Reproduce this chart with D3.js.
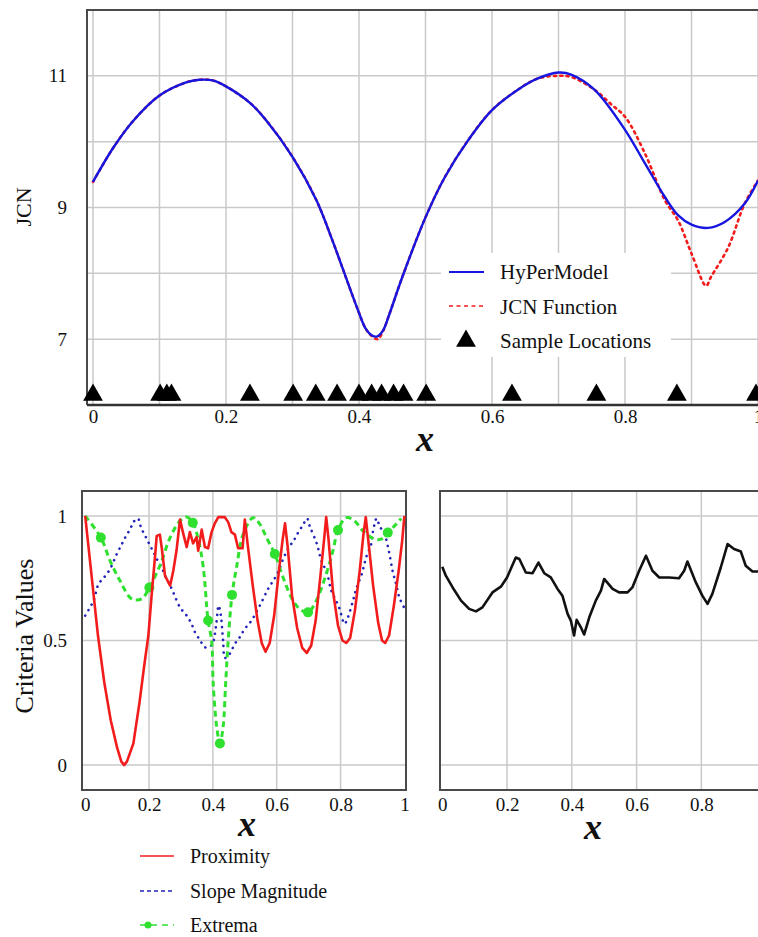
<!DOCTYPE html>
<html>
<head>
<meta charset="utf-8">
<script src="https://cdn.jsdelivr.net/npm/d3@7"></script>
<style>
  html, body { margin: 0; padding: 0; background: #fff; }
  svg { display: block; }
  text { font-family: "Liberation Serif", "Times New Roman", serif; fill: #111; }
</style>
</head>
<body>
<svg id="chart" width="758" height="937"></svg>
<script>
// ---- Top panel: HyPerModel vs. JCN function ----
const hyperX = [0, 0.03, 0.06, 0.1, 0.14, 0.16, 0.18, 0.2, 0.236, 0.26, 0.3, 0.336, 0.36, 0.386, 0.4, 0.41, 0.419, 0.427, 0.436, 0.445, 0.465, 0.5, 0.529, 0.564, 0.6, 0.639, 0.669, 0.7, 0.719, 0.754, 0.8, 0.83, 0.86, 0.88, 0.9, 0.925, 0.95, 0.98, 1.0];
const hyperY = [9.39, 9.90, 10.31, 10.70, 10.90, 10.94, 10.93, 10.84, 10.59, 10.33, 9.77, 9.11, 8.5, 7.78, 7.40, 7.16, 7.06, 7.04, 7.13, 7.36, 7.94, 8.85, 9.46, 10.02, 10.48, 10.79, 10.96, 11.05, 11.02, 10.79, 10.18, 9.67, 9.16, 8.88, 8.74, 8.69, 8.78, 9.06, 9.41];

const jcnX = [0, 0.03, 0.06, 0.1, 0.14, 0.16, 0.18, 0.2, 0.236, 0.26, 0.3, 0.336, 0.36, 0.386, 0.4, 0.41, 0.419, 0.428, 0.436, 0.445, 0.465, 0.5, 0.529, 0.564, 0.6, 0.639, 0.669, 0.7, 0.72, 0.754, 0.78, 0.8, 0.83, 0.86, 0.88, 0.9, 0.922, 0.929, 0.955, 0.98, 1.0];
const jcnY = [9.39, 9.90, 10.31, 10.70, 10.90, 10.94, 10.93, 10.84, 10.59, 10.33, 9.77, 9.11, 8.5, 7.78, 7.40, 7.16, 7.05, 7.0, 7.12, 7.36, 7.94, 8.85, 9.46, 10.02, 10.48, 10.79, 10.96, 11.0, 10.98, 10.79, 10.56, 10.38, 9.82, 9.11, 8.80, 8.30, 7.81, 7.94, 8.39, 9.06, 9.41];

const sampleX = [0, 0.101, 0.111, 0.118, 0.236, 0.301, 0.335, 0.367, 0.400, 0.419, 0.434, 0.452, 0.467, 0.501, 0.630, 0.757, 0.878, 0.997];

const topXTicks = [0, 0.2, 0.4, 0.6, 0.8, 1];
const topXGrid = [0, 0.1, 0.2, 0.3, 0.4, 0.5, 0.6, 0.7, 0.8, 0.9, 1.0];
const topYTicks = [7, 9, 11];
const topYGrid = [7, 8, 9, 10, 11];

// ---- Bottom-left panel: individual criteria ----
const proxX = [0, 0.01, 0.02, 0.04, 0.06, 0.08, 0.10, 0.113, 0.122, 0.131, 0.151, 0.17, 0.185, 0.198, 0.208, 0.219, 0.224, 0.234, 0.24, 0.25, 0.266, 0.276, 0.286, 0.297, 0.307, 0.318, 0.328, 0.338, 0.349, 0.354, 0.365, 0.375, 0.385, 0.396, 0.406, 0.417, 0.4375, 0.448, 0.458, 0.469, 0.479, 0.493, 0.5, 0.51, 0.525, 0.54, 0.553, 0.565, 0.578, 0.592, 0.607, 0.618, 0.626, 0.634, 0.648, 0.664, 0.68, 0.694, 0.708, 0.722, 0.737, 0.748, 0.755, 0.762, 0.776, 0.792, 0.806, 0.818, 0.83, 0.845, 0.86, 0.872, 0.879, 0.887, 0.902, 0.918, 0.93, 0.94, 0.952, 0.967, 0.982, 0.993, 1.0];
const proxY = [1.0, 0.88, 0.76, 0.52, 0.33, 0.18, 0.07, 0.015, 0.0, 0.015, 0.087, 0.25, 0.40, 0.52, 0.68, 0.84, 0.92, 0.925, 0.87, 0.76, 0.72, 0.78, 0.86, 0.985, 0.93, 0.875, 0.935, 0.89, 0.915, 0.86, 0.945, 0.875, 0.87, 0.935, 0.97, 0.995, 0.995, 0.975, 0.935, 0.925, 0.87, 0.87, 0.985, 0.875, 0.72, 0.58, 0.49, 0.455, 0.49, 0.6, 0.78, 0.9, 0.97, 0.88, 0.68, 0.55, 0.47, 0.45, 0.48, 0.58, 0.76, 0.9, 0.995, 0.91, 0.7, 0.56, 0.5, 0.49, 0.51, 0.62, 0.78, 0.93, 0.995, 0.9, 0.72, 0.57, 0.5, 0.49, 0.52, 0.64, 0.78, 0.9, 1.0];

const slopeX = [0, 0.026, 0.042, 0.059, 0.078, 0.099, 0.115, 0.128, 0.141, 0.151, 0.165, 0.175, 0.188, 0.201, 0.213, 0.226, 0.24, 0.25, 0.264, 0.276, 0.297, 0.318, 0.333, 0.344, 0.359, 0.375, 0.39, 0.40, 0.41, 0.418, 0.425, 0.432, 0.438, 0.453, 0.469, 0.484, 0.5, 0.521, 0.547, 0.573, 0.589, 0.604, 0.62, 0.638, 0.656, 0.667, 0.682, 0.695, 0.703, 0.726, 0.74, 0.757, 0.771, 0.786, 0.797, 0.8125, 0.823, 0.839, 0.849, 0.868, 0.88, 0.896, 0.901, 0.913, 0.922, 0.9375, 0.951, 0.964, 0.974, 0.984, 1.0];
const slopeY = [0.6, 0.66, 0.727, 0.753, 0.787, 0.847, 0.887, 0.92, 0.947, 0.975, 0.99, 0.953, 0.92, 0.887, 0.857, 0.823, 0.793, 0.76, 0.727, 0.693, 0.633, 0.60, 0.567, 0.533, 0.503, 0.473, 0.475, 0.49, 0.56, 0.64, 0.60, 0.50, 0.43, 0.447, 0.487, 0.513, 0.547, 0.58, 0.64, 0.707, 0.74, 0.773, 0.827, 0.873, 0.907, 0.933, 0.963, 0.99, 0.96, 0.887, 0.82, 0.773, 0.70, 0.66, 0.627, 0.567, 0.593, 0.66, 0.707, 0.773, 0.833, 0.887, 0.933, 0.99, 0.96, 0.927, 0.86, 0.773, 0.727, 0.673, 0.63];

const extremaX = [0, 0.049, 0.078, 0.109, 0.146, 0.177, 0.201, 0.234, 0.266, 0.297, 0.318, 0.337, 0.354, 0.37, 0.385, 0.396, 0.401, 0.412, 0.422, 0.432, 0.44, 0.448, 0.46, 0.474, 0.495, 0.526, 0.547, 0.568, 0.594, 0.62, 0.651, 0.672, 0.698, 0.724, 0.755, 0.776, 0.792, 0.818, 0.844, 0.87, 0.906, 0.927, 0.948, 0.974, 0.99];
const extremaY = [1.0, 0.913, 0.82, 0.74, 0.667, 0.667, 0.713, 0.80, 0.913, 0.98, 0.996, 0.973, 0.907, 0.793, 0.58, 0.50, 0.327, 0.153, 0.087, 0.153, 0.327, 0.50, 0.683, 0.793, 0.927, 0.993, 0.967, 0.913, 0.847, 0.753, 0.66, 0.627, 0.613, 0.66, 0.767, 0.86, 0.943, 0.993, 0.98, 0.94, 0.907, 0.907, 0.933, 0.967, 0.99];
const extremaMarkX = [0.049, 0.201, 0.337, 0.385, 0.422, 0.46, 0.594, 0.698, 0.792, 0.948];
const extremaMarkY = [0.913, 0.713, 0.973, 0.58, 0.087, 0.683, 0.847, 0.613, 0.943, 0.933];

// ---- Bottom-right panel: combined criterion ----
const combX = [0, 0.011, 0.032, 0.058, 0.083, 0.104, 0.124, 0.155, 0.181, 0.2, 0.227, 0.238, 0.258, 0.279, 0.297, 0.315, 0.335, 0.356, 0.371, 0.387, 0.397, 0.407, 0.415, 0.428, 0.438, 0.454, 0.474, 0.49, 0.5, 0.526, 0.546, 0.572, 0.587, 0.608, 0.629, 0.649, 0.67, 0.70, 0.731, 0.747, 0.757, 0.783, 0.803, 0.819, 0.834, 0.86, 0.881, 0.901, 0.922, 0.937, 0.958, 0.99];
const combY = [0.796, 0.76, 0.713, 0.66, 0.627, 0.617, 0.633, 0.693, 0.716, 0.753, 0.833, 0.827, 0.773, 0.77, 0.813, 0.77, 0.753, 0.707, 0.68, 0.607, 0.58, 0.52, 0.583, 0.553, 0.524, 0.593, 0.66, 0.70, 0.747, 0.707, 0.693, 0.693, 0.713, 0.78, 0.84, 0.78, 0.753, 0.753, 0.75, 0.78, 0.817, 0.733, 0.68, 0.647, 0.687, 0.793, 0.887, 0.867, 0.857, 0.80, 0.777, 0.777];

const botLeftXTicks = [0, 0.2, 0.4, 0.6, 0.8, 1];
const botRightXTicks = [0, 0.2, 0.4, 0.6, 0.8];
const botXGrid = [0.2, 0.4, 0.6, 0.8];
const botYTicks = [0, 0.5, 1];

const C = {
  blue: "#1616e0", red: "#f21c1c", green: "#2fe02f", dotBlue: "#2323b8",
  grid: "#c9c9c9", frame: "#4a4a4a", black: "#111"
};
const fmt = d => String(d);
const zip = (xs, ys) => xs.map((x, i) => [x, ys[i]]);

const svg = d3.select("#chart");

// ===== Top panel =====
const tx = d3.scaleLinear().domain([-0.009, 1.006]).range([87, 762]);
const ty = d3.scaleLinear().domain([6, 12]).range([405, 10]);
const topG = svg.append("g");

topG.append("g").selectAll("line").data(topXGrid).join("line")
  .attr("x1", d => tx(d)).attr("x2", d => tx(d)).attr("y1", ty(12)).attr("y2", ty(6))
  .attr("stroke", C.grid).attr("stroke-width", 1.5);
topG.append("g").selectAll("line").data(topYGrid).join("line")
  .attr("x1", tx.range()[0]).attr("x2", tx.range()[1]).attr("y1", d => ty(d)).attr("y2", d => ty(d))
  .attr("stroke", C.grid).attr("stroke-width", 1.5);

// frame
topG.append("path")
  .attr("d", `M${tx.range()[1]},${ty(12)}H${tx.range()[0]}V${ty(6)}`)
  .attr("fill", "none").attr("stroke", C.frame).attr("stroke-width", 2);

const topLine = d3.line().x(d => tx(d[0])).y(d => ty(d[1])).curve(d3.curveCatmullRom.alpha(0.5));

topG.append("path").datum(zip(jcnX, jcnY)).attr("d", topLine)
  .attr("fill", "none").attr("stroke", C.red).attr("stroke-width", 2.6)
  .attr("stroke-dasharray", "2.2,4.2").attr("stroke-linecap", "round");
topG.append("path").datum(zip(hyperX, hyperY)).attr("d", topLine)
  .attr("fill", "none").attr("stroke", C.blue).attr("stroke-width", 2.4);

// sample markers
const tri = d3.symbol().type(d3.symbolTriangle).size(170);
topG.append("g").selectAll("path").data(sampleX).join("path")
  .attr("d", tri).attr("transform", d => `translate(${tx(d)},${395})`)
  .attr("fill", "#000");

topG.append("line").attr("x1", tx.range()[0]).attr("x2", tx.range()[1])
  .attr("y1", ty(6)).attr("y2", ty(6)).attr("stroke", "#333").attr("stroke-width", 2.5);

// axes
const topXAxis = topG.append("g").attr("transform", `translate(0,${ty(6)})`)
  .call(d3.axisBottom(tx).tickValues(topXTicks).tickFormat(fmt).tickSize(0).tickPadding(5));
const topYAxis = topG.append("g").attr("transform", `translate(${tx.range()[0]},0)`)
  .call(d3.axisLeft(ty).tickValues(topYTicks).tickFormat(fmt).tickSize(0).tickPadding(20));
[topXAxis, topYAxis].forEach(a => {
  a.attr("font-family", null);
  a.select(".domain").remove();
  a.selectAll("text").attr("font-size", 19).attr("fill", "#111");
});

topG.append("text").attr("transform", "translate(31,207) rotate(-90)")
  .attr("text-anchor", "middle").attr("font-size", 22).text("JCN");
topG.append("text").attr("x", 425).attr("y", 451).attr("text-anchor", "middle")
  .attr("font-size", 36).attr("font-weight", "bold").attr("font-style", "italic").text("x");

// legend
const lg = topG.append("g");
lg.append("rect").attr("x", 441).attr("y", 253).attr("width", 230).attr("height", 104).attr("fill", "#fff");
lg.append("line").attr("x1", 449).attr("x2", 484).attr("y1", 272).attr("y2", 272)
  .attr("stroke", C.blue).attr("stroke-width", 2);
lg.append("line").attr("x1", 449).attr("x2", 484).attr("y1", 306).attr("y2", 306)
  .attr("stroke", C.red).attr("stroke-width", 1.6).attr("stroke-dasharray", "4,3.5");
lg.append("path").attr("d", tri).attr("transform", "translate(466,341)").attr("fill", "#000");
const topLegendLabels = ["HyPerModel", "JCN Function", "Sample Locations"];
lg.selectAll("text").data(topLegendLabels).join("text")
  .attr("x", 500).attr("y", (d, i) => 279 + i * 34.5).attr("font-size", 21).text(d => d);

// ===== Bottom panels =====
const by = d3.scaleLinear().domain([-0.1, 1.1]).range([790, 491]);

function panel(xRange, xDomain, xTicks, withYAxis) {
  const x = d3.scaleLinear().domain(xDomain).range(xRange);
  const g = svg.append("g");
  g.append("g").selectAll("line").data(botXGrid).join("line")
    .attr("x1", d => x(d)).attr("x2", d => x(d)).attr("y1", by.range()[1]).attr("y2", by.range()[0])
    .attr("stroke", C.grid).attr("stroke-width", 1.5);
  g.append("g").selectAll("line").data(botYTicks).join("line")
    .attr("x1", xRange[0]).attr("x2", xRange[1]).attr("y1", d => by(d)).attr("y2", d => by(d))
    .attr("stroke", C.grid).attr("stroke-width", 1.5);
  g.append("rect").attr("x", xRange[0]).attr("y", by.range()[1])
    .attr("width", xRange[1] - xRange[0]).attr("height", by.range()[0] - by.range()[1])
    .attr("fill", "none").attr("stroke", C.frame).attr("stroke-width", 2);
  const xa = g.append("g").attr("transform", `translate(0,${by.range()[0]})`)
    .call(d3.axisBottom(x).tickValues(xTicks).tickFormat(fmt).tickSize(0).tickPadding(8));
  xa.attr("font-family", null);
  xa.select(".domain").remove();
  xa.selectAll("text").attr("font-size", 19).attr("fill", "#111");
  if (withYAxis) {
    const ya = g.append("g").attr("transform", `translate(${xRange[0]},0)`)
      .call(d3.axisLeft(by).tickValues(botYTicks).tickFormat(fmt).tickSize(0).tickPadding(15));
    ya.attr("font-family", null);
    ya.select(".domain").remove();
    ya.selectAll("text").attr("font-size", 19).attr("fill", "#111");
  }
  return { x, g };
}

// left: three criteria
const L = panel([82, 406], [-0.01, 1.005], botLeftXTicks, true);
L.g.append("path").datum(zip(slopeX, slopeY))
  .attr("d", d3.line().x(d => L.x(d[0])).y(d => by(d[1])).curve(d3.curveCatmullRom))
  .attr("fill", "none").attr("stroke", C.dotBlue).attr("stroke-width", 2.6)
  .attr("stroke-dasharray", "0.1,6.2").attr("stroke-linecap", "round");
L.g.append("path").datum(zip(extremaX, extremaY))
  .attr("d", d3.line().x(d => L.x(d[0])).y(d => by(d[1])).curve(d3.curveCatmullRom))
  .attr("fill", "none").attr("stroke", C.green).attr("stroke-width", 3)
  .attr("stroke-dasharray", "6,4");
L.g.append("g").selectAll("circle").data(zip(extremaMarkX, extremaMarkY)).join("circle")
  .attr("cx", d => L.x(d[0])).attr("cy", d => by(d[1])).attr("r", 5).attr("fill", C.green);
L.g.append("path").datum(zip(proxX, proxY)).attr("d", d3.line().x(d => L.x(d[0])).y(d => by(d[1])))
  .attr("fill", "none").attr("stroke", C.red).attr("stroke-width", 2.6).attr("stroke-linejoin", "round");

svg.append("text").attr("transform", "translate(33,636) rotate(-90)")
  .attr("text-anchor", "middle").attr("font-size", 26).text("Criteria Values");
svg.append("text").attr("x", 247).attr("y", 836).attr("text-anchor", "middle")
  .attr("font-size", 36).attr("font-weight", "bold").attr("font-style", "italic").text("x");

// right: combined criterion
const R = panel([440, 770], [-0.007, 1.012], botRightXTicks, false);
R.g.append("path").datum(zip(combX, combY)).attr("d", d3.line().x(d => R.x(d[0])).y(d => by(d[1])))
  .attr("fill", "none").attr("stroke", C.black).attr("stroke-width", 2.6).attr("stroke-linejoin", "round");
svg.append("text").attr("x", 593).attr("y", 839).attr("text-anchor", "middle")
  .attr("font-size", 36).attr("font-weight", "bold").attr("font-style", "italic").text("x");

// bottom legend
const bl = svg.append("g");
const botLegendLabels = ["Proximity", "Slope Magnitude", "Extrema"];
bl.append("line").attr("x1", 140).attr("x2", 174).attr("y1", 856).attr("y2", 856)
  .attr("stroke", C.red).attr("stroke-width", 1.6);
bl.append("line").attr("x1", 140).attr("x2", 174).attr("y1", 891).attr("y2", 891)
  .attr("stroke", C.dotBlue).attr("stroke-width", 1.6).attr("stroke-dasharray", "4,3");
bl.append("line").attr("x1", 140).attr("x2", 174).attr("y1", 925).attr("y2", 925)
  .attr("stroke", C.green).attr("stroke-width", 1.6).attr("stroke-dasharray", "6,5");
bl.append("circle").attr("cx", 148).attr("cy", 925).attr("r", 3.5).attr("fill", C.green);
bl.selectAll("text").data(botLegendLabels).join("text")
  .attr("x", 190).attr("y", (d, i) => 863 + i * 34.5).attr("font-size", 20).text(d => d);
</script>
</body>
</html>
